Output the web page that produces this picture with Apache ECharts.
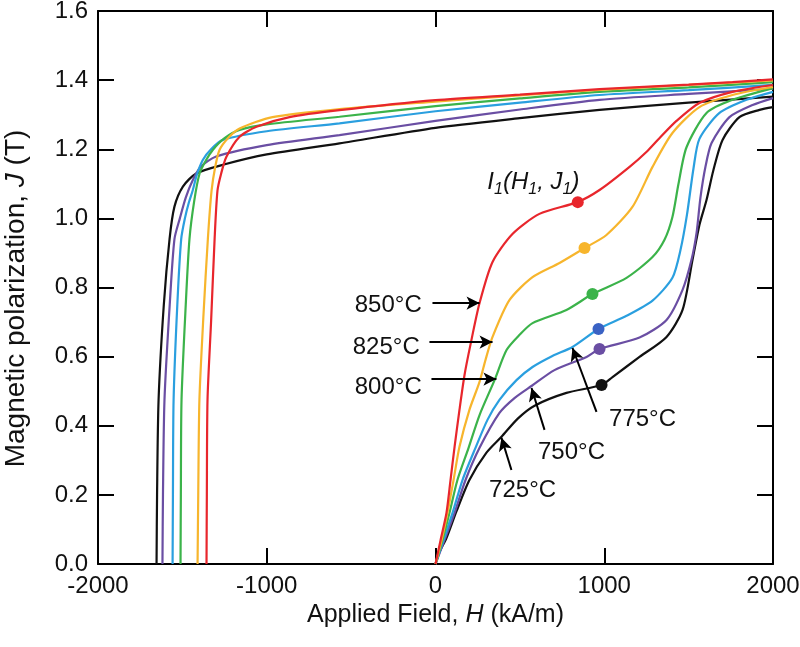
<!DOCTYPE html>
<html><head><meta charset="utf-8">
<script src="https://cdn.jsdelivr.net/npm/echarts@6/dist/echarts.min.js"></script>
<style>html,body{margin:0;padding:0;background:#fff}#c{width:800px;height:647px}</style>
</head><body><div id="c"></div>
<script>
// ---- data ----
const temps = ['850°C','825°C','800°C','775°C','750°C','725°C'];
const xTicks = [-2000,-1000,0,1000,2000];
const yTicks = [0,0.2,0.4,0.6,0.8,1.0,1.2,1.4,1.6];

// demagnetization (upper) branches, H (kA/m) vs J (T)
const demag850 = [[2000,1.402],[1760,1.394],[1500,1.387],[972,1.374],[500,1.358],[0,1.342],[-569,1.313],[-865,1.293],[-1061,1.265],[-1161,1.236],[-1239,1.178],[-1270,1.13],[-1292,1.08],[-1309,0.94],[-1330,0.70],[-1351,0.475],[-1355,0.2],[-1357,0]];
const demag825 = [[2000,1.399],[1500,1.386],[972,1.372],[500,1.356],[0,1.338],[-569,1.316],[-966,1.293],[-1161,1.26],[-1230,1.232],[-1280,1.198],[-1305,1.15],[-1327,1.08],[-1349,0.94],[-1375,0.72],[-1399,0.475],[-1406,0.2],[-1410,0]];
const demag800 = [[2000,1.394],[1500,1.379],[972,1.366],[500,1.347],[0,1.325],[-569,1.294],[-1000,1.272],[-1161,1.256],[-1250,1.232],[-1320,1.198],[-1360,1.168],[-1398,1.13],[-1430,1.05],[-1458,0.94],[-1480,0.75],[-1505,0.475],[-1509,0.2],[-1511,0]];
const demag775 = [[2000,1.386],[1500,1.371],[972,1.357],[500,1.335],[0,1.31],[-569,1.275],[-1000,1.252],[-1260,1.227],[-1330,1.2],[-1379,1.169],[-1415,1.125],[-1438,1.082],[-1462,1.045],[-1485,1.0],[-1507,0.94],[-1530,0.75],[-1552,0.475],[-1556,0.2],[-1558,0]];
const demag750 = [[2000,1.375],[1500,1.36],[972,1.343],[500,1.315],[0,1.282],[-569,1.241],[-1000,1.212],[-1300,1.179],[-1390,1.15],[-1438,1.111],[-1480,1.06],[-1515,1.0],[-1547,0.94],[-1575,0.75],[-1606,0.475],[-1615,0.2],[-1618,0]];
const demag725 = [[2000,1.352],[1500,1.335],[972,1.314],[500,1.29],[0,1.262],[-569,1.217],[-1000,1.185],[-1260,1.155],[-1418,1.13],[-1497,1.092],[-1547,1.034],[-1576,0.94],[-1610,0.75],[-1641,0.475],[-1650,0.2],[-1653,0]];

// initial magnetization curves
const init850 = [[0,0],[30,0.069],[65,0.148],[89,0.243],[113,0.339],[142,0.446],[172,0.547],[207,0.634],[261,0.755],[338,0.874],[456,0.955],[616,1.013],[841,1.047],[972,1.082],[1150,1.149],[1256,1.195],[1327,1.232],[1428,1.282],[1564,1.334],[1760,1.366],[2000,1.386]];
const init825 = [[0,0],[36,0.069],[71,0.148],[107,0.243],[142,0.339],[201,0.446],[261,0.527],[296,0.590],[338,0.657],[439,0.764],[575,0.830],[735,0.871],[883,0.914],[1013,0.952],[1167,1.033],[1286,1.149],[1404,1.247],[1564,1.322],[1760,1.357],[2000,1.380]];
const init800 = [[0,0],[41,0.069],[83,0.148],[130,0.243],[196,0.336],[261,0.431],[350,0.532],[421,0.619],[498,0.663],[575,0.697],[776,0.735],[930,0.781],[1132,0.828],[1286,0.888],[1357,0.938],[1404,1.004],[1440,1.100],[1487,1.205],[1606,1.305],[1760,1.343],[2000,1.377]];
const init775 = [[0,0],[47,0.069],[101,0.148],[160,0.243],[237,0.336],[308,0.417],[379,0.475],[480,0.532],[575,0.570],[693,0.602],[812,0.628],[966,0.680],[1132,0.718],[1286,0.762],[1404,0.828],[1452,0.909],[1490,1.010],[1529,1.145],[1564,1.230],[1683,1.305],[1843,1.343],[2000,1.366]];
const init750 = [[0,0],[53,0.069],[113,0.148],[178,0.243],[261,0.336],[379,0.437],[468,0.480],[569,0.515],[705,0.561],[895,0.599],[972,0.622],[1209,0.655],[1369,0.706],[1464,0.793],[1517,0.880],[1547,0.958],[1570,1.060],[1600,1.150],[1636,1.218],[1742,1.293],[1879,1.328],[2000,1.348]];
const init725 = [[0,0],[24,0.035],[65,0.075],[124,0.152],[201,0.243],[302,0.322],[391,0.368],[486,0.420],[587,0.458],[776,0.495],[984,0.518],[1049,0.541],[1209,0.599],[1369,0.657],[1464,0.735],[1523,0.880],[1564,0.981],[1606,1.053],[1647,1.140],[1701,1.227],[1801,1.293],[1920,1.314],[2000,1.322]];

// inflection points I1(H1,J1)
const inflH = [843, 883, 930, 966, 972, 984];
const inflJ = [1.047, 0.914, 0.781, 0.680, 0.622, 0.518];

// annotation labels (text, H, J) and arrows (from H,J -> to H,J)
const labelText = ['850°C','825°C','800°C','775°C','750°C','725°C'];
const labelH = [-280, -292, -280, 1227, 806, 516];
const labelJ = [0.749, 0.628, 0.512, 0.417, 0.324, 0.214];
const arrowFrom = [[-18,0.755],[-36,0.642],[-24,0.535],[954,0.44],[646,0.388],[450,0.272]];
const arrowTo = [[261,0.755],[338,0.642],[361,0.535],[812,0.625],[569,0.509],[391,0.365]];
const inflLabelPos = [580, 1.105];

// ---- styles ----
const colors = ['#e8262c','#f7b52c','#3bb34a','#2a9fdf','#6a4ea3','#111111'];
const dotColors = ['#e8262c','#f7b52c','#3bb34a','#3a62c4','#6a4ea3','#111111'];
const FONT = 'Liberation Sans, Arial, sans-serif';
const TXT = '#111111';

const demag = [demag850, demag825, demag800, demag775, demag750, demag725];
const init = [init850, init825, init800, init775, init750, init725];

const series = [];
for (let i = 5; i >= 0; i--) {
  series.push({type:'line', name:temps[i]+' demag', data:demag[i], showSymbol:false,
    smooth:0.25, lineStyle:{color:colors[i], width:2.2}, z:3, silent:true});
}
for (let i = 5; i >= 0; i--) {
  series.push({type:'line', name:temps[i]+' init', data:init[i], showSymbol:false,
    smooth:0.25, lineStyle:{color:colors[i], width:2.2}, z:3, silent:true});
}
series.push({type:'scatter', name:'I1', symbolSize:12, z:5, silent:true,
  itemStyle:{opacity:1},
  data: inflH.map((h,i)=>({value:[h, inflJ[i]], itemStyle:{color:dotColors[i], opacity:1}}))});
series.push({type:'scatter', name:'labels', symbolSize:0, z:6, silent:true,
  itemStyle:{opacity:1},
  data: labelText.map((t,i)=>({value:[labelH[i], labelJ[i]],
    label:{show:true, position:'inside', formatter:t, color:TXT, fontSize:24, fontFamily:FONT}})),
  markLine:{silent:true, symbol:['none','arrow'], symbolSize:[10,13], animation:false,
    lineStyle:{color:'#000', width:2, type:'solid', opacity:1}, label:{show:false},
    data: arrowFrom.map((f,i)=>[{coord:f},{coord:arrowTo[i]}])}
});
series.push({type:'scatter', name:'infl label', symbolSize:0, z:6, silent:true,
  itemStyle:{opacity:1},
  data:[{value:inflLabelPos, label:{show:true, position:'inside',
    formatter:'{i|I}{s|1}{i|(H}{s|1}{i|, J}{s|1}{i|)}',
    rich:{i:{fontSize:24, fontStyle:'italic', fontFamily:FONT, color:TXT},
          s:{fontSize:16, fontStyle:'italic', fontFamily:FONT, color:TXT, padding:[14,0,0,0]}}}}]
});

const axisCommon = {
  axisLine:{show:true, onZero:false, lineStyle:{color:'#000', width:2}},
  axisTick:{show:true, inside:true, length:16, lineStyle:{color:'#000', width:2}},
  splitLine:{show:false}
};

const chart = echarts.init(document.getElementById('c'), null, {renderer:'canvas'});
chart.setOption({
  animation:false,
  backgroundColor:'#fff',
  grid:{left:98, right:27, top:11, bottom:83, containLabel:false, outerBoundsMode:'none'},
  xAxis:[
    Object.assign({type:'value', min:-2000, max:2000, interval:1000, position:'bottom',
      name:'{n|Applied Field, }{i|H}{n| (kA/m)}', nameLocation:'middle', nameGap:33,
      nameTextStyle:{rich:{n:{fontSize:25, fontFamily:FONT, color:TXT}, i:{fontSize:25, fontStyle:'italic', fontFamily:FONT, color:TXT}}},
      axisLabel:{fontSize:24, fontFamily:FONT, color:TXT, margin:10, formatter:v=>String(v)}}, axisCommon),
    Object.assign({type:'value', min:-2000, max:2000, interval:1000, position:'top',
      axisLabel:{show:false}}, axisCommon)
  ],
  yAxis:[
    Object.assign({type:'value', min:0, max:1.6, interval:0.2, position:'left',
      name:'{n|Magnetic polarization, }{i|J}{n| (T)}', nameLocation:'middle', nameGap:68, nameRotate:90,
      nameTextStyle:{padding:[0,22,0,0], rich:{n:{fontSize:28, fontFamily:FONT, color:TXT}, i:{fontSize:28, fontStyle:'italic', fontFamily:FONT, color:TXT}}},
      axisLabel:{fontSize:24, fontFamily:FONT, color:TXT, margin:10, formatter:v=>v.toFixed(1)}}, axisCommon),
    Object.assign({type:'value', min:0, max:1.6, interval:0.2, position:'right',
      axisLabel:{show:false}}, axisCommon)
  ],
  series: series
});
</script>
</body></html>
